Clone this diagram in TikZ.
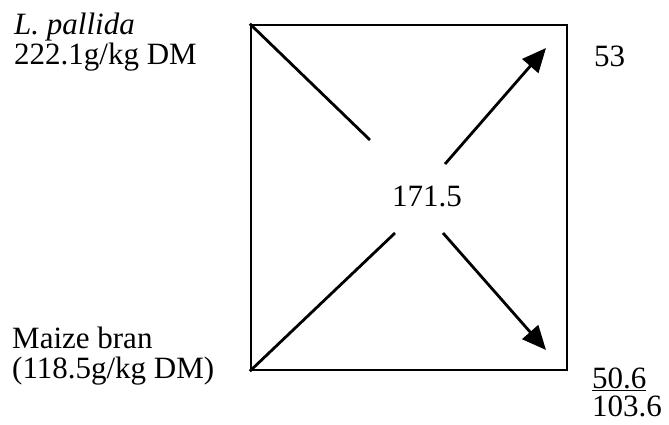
\documentclass[tikz,border=0pt]{standalone}
\usepackage{fontspec}
\setmainfont{Liberation Serif}
\usetikzlibrary{arrows.meta}
\tikzset{
  lbl/.style={font=\fontsize{31}{32}\selectfont, align=left, inner sep=0pt},
  mixb/.style={draw=black, line width=2.4pt, minimum width=316pt, minimum height=345pt, inner sep=0pt},
  lnk/.style={line width=2.8pt, draw=black},
  flow/.style={-{Triangle[length=24pt, width=21pt]}, line width=2.8pt, draw=black},
}
\begin{document}
\begin{tikzpicture}[x=1pt, y=-1pt]
    \useasboundingbox (0,0) rectangle (669,425);
    % feeds
    \node[lbl, anchor=base west] (pal) at (14,35) {\textit{L. pallida}};
    \node[lbl, anchor=base west] (palcp) at (14,65) {222.1g/kg DM};
    \node[lbl, anchor=base west] (mz) at (12,348) {Maize bran};
    \node[lbl, anchor=base west] (mzcp) at (12,378) {(118.5g/kg DM)};
    % square
    \node[mixb] (sq) at (409,197.5) {};
    \node[lbl, anchor=base] (tgt) at (427,206) {171.5};
    % parts
    \node[lbl, anchor=base west] (pp) at (594,67) {53};
    \node[lbl, anchor=base west] (pm) at (592,388) {\underline{50.6}};
    \node[lbl, anchor=base west] (tot) at (592,416) {103.6};
    \coordinate (a1) at (370,140);
    \coordinate (a2) at (395,233);
    \coordinate (b1) at (445,164);
    \coordinate (b2) at (546,48);
    \coordinate (c1) at (443,233);
    \coordinate (c2) at (546,350);
    \draw[lnk] (sq.north west) -- (a1);
    \draw[lnk] (sq.south west) -- (a2);
    \draw[flow] (b1) -- (b2);
    \draw[flow] (c1) -- (c2);
\end{tikzpicture}
\end{document}
